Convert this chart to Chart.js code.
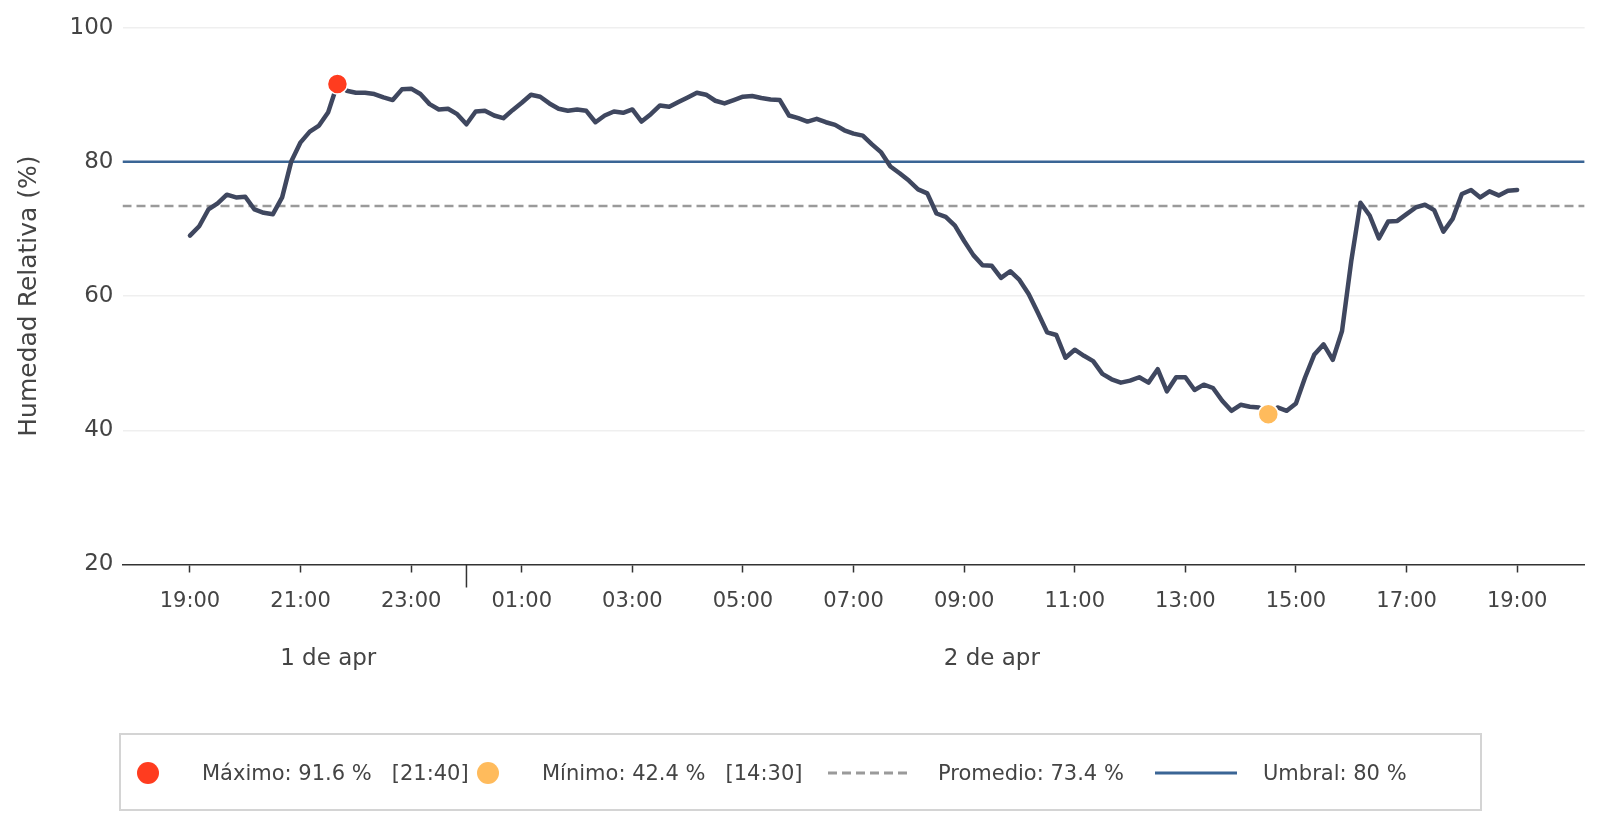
<!DOCTYPE html>
<html>
<head>
<meta charset="utf-8">
<script src="https://cdn.jsdelivr.net/npm/chart.js@4/dist/chart.umd.min.js"></script>
<style>
  body { margin: 0; background: #fff; font-family: 'DejaVu Sans', sans-serif; color: #444; }
  #wrap { position: relative; width: 1601px; height: 828px; }
  #legendBox { position: absolute; left: 119px; top: 733px; width: 1359px; height: 74px; border: 2px solid #d4d4d4; }
  .lg { position: absolute; font-size: 21px; line-height: 24px; top: 761px; white-space: pre; color: #444; }
  .dot { position: absolute; width: 22px; height: 22px; border-radius: 50%; top: 762px; }
  .ln { position: absolute; top: 766px; }
</style>
</head>
<body>
<div id="wrap">
  <canvas id="humChart" width="1601" height="828"></canvas>
  <div id="legendBox"></div>
  <div class="dot" style="left:137px;background:#ff3c1f"></div>
  <div class="lg" id="lgMax" style="left:202px"></div>
  <div class="dot" style="left:477px;background:#ffbb5c"></div>
  <div class="lg" id="lgMin" style="left:542px"></div>
  <svg class="ln" style="left:828px" width="84" height="14"><line x1="0" y1="7" x2="84" y2="7" stroke="#9a9a9a" stroke-width="3" stroke-dasharray="9,5"/></svg>
  <div class="lg" id="lgAvg" style="left:938px"></div>
  <svg class="ln" style="left:1155px" width="82" height="14"><line x1="0" y1="7" x2="82" y2="7" stroke="#3a6595" stroke-width="3"/></svg>
  <div class="lg" id="lgThr" style="left:1263px"></div>
</div>
<script>
// readings every 10 min, from 19:00 on 1 apr to 19:00 on 2 apr
const stepMinutes = 10;
const humidity = [
  69.0, 70.4, 72.9, 73.8, 75.1, 74.7, 74.8, 72.9, 72.4, 72.2, 74.7, 80.1,
  82.9, 84.5, 85.4, 87.4, 91.6, 90.6, 90.3, 90.3, 90.1, 89.6, 89.2, 90.8,
  90.9, 90.1, 88.6, 87.8, 87.9, 87.1, 85.6, 87.5, 87.6, 86.9, 86.5, 87.7,
  88.8, 90.0, 89.7, 88.7, 87.9, 87.6, 87.8, 87.6, 85.9, 86.9, 87.5, 87.3,
  87.8, 86.0, 87.1, 88.4, 88.2, 88.9, 89.6, 90.3, 90.0, 89.1, 88.7, 89.2,
  89.7, 89.8, 89.5, 89.3, 89.2, 86.9, 86.5, 86.0, 86.4, 85.9, 85.5, 84.7,
  84.2, 83.9, 82.6, 81.4, 79.3, 78.3, 77.2, 75.9, 75.3, 72.3, 71.8, 70.5,
  68.2, 66.1, 64.6, 64.5, 62.7, 63.7, 62.4, 60.3, 57.5, 54.6, 54.2, 50.8,
  52.0, 51.1, 50.3, 48.4, 47.6, 47.1, 47.4, 47.9, 47.1, 49.1, 45.8, 47.9,
  47.9, 46.0, 46.8, 46.3, 44.4, 42.9, 43.8, 43.5, 43.4, 42.4, 43.4, 42.9,
  44.0, 47.9, 51.3, 52.8, 50.5, 54.8, 65.2, 73.9, 72.0, 68.6, 71.1, 71.2,
  72.2, 73.2, 73.6, 72.8, 69.6, 71.5, 75.2, 75.8, 74.7, 75.6, 75.0, 75.7,
  75.8
];
const average = 73.4;
const threshold = 80;
const maxLabel = '21:40';
const minLabel = '14:30';

// x axis in hours after 19:00
const tickHours = [0, 2, 4, 6, 8, 10, 12, 14, 16, 18, 20, 22, 24];
const tickLabels = ['19:00', '21:00', '23:00', '01:00', '03:00', '05:00', '07:00',
                    '09:00', '11:00', '13:00', '15:00', '17:00', '19:00'];
const midnightHour = 5;
const dayLabels = ['1 de apr', '2 de apr'];
const xMin = -1.22, xMax = 25.22;

const points = humidity.map((v, i) => ({ x: i * stepMinutes / 60, y: v }));
const maxVal = Math.max(...humidity);
const minVal = Math.min(...humidity);
const maxPoint = points[humidity.indexOf(maxVal)];
const minPoint = points[humidity.indexOf(minVal)];

document.getElementById('lgMax').textContent = 'Máximo: ' + maxVal.toFixed(1) + ' %   [' + maxLabel + ']';
document.getElementById('lgMin').textContent = 'Mínimo: ' + minVal.toFixed(1) + ' %   [' + minLabel + ']';
document.getElementById('lgAvg').textContent = 'Promedio: ' + average.toFixed(1) + ' %';
document.getElementById('lgThr').textContent = 'Umbral: ' + threshold + ' %';

const dayAxis = {
  id: 'dayAxis',
  afterDraw(chart) {
    const { ctx, chartArea: { bottom } } = chart;
    const x = chart.scales.x;
    const mid = x.getPixelForValue(midnightHour);
    ctx.save();
    ctx.strokeStyle = '#333';
    ctx.lineWidth = 1.5;
    ctx.beginPath();
    ctx.moveTo(mid, bottom);
    ctx.lineTo(mid, bottom + 23);
    ctx.stroke();
    ctx.fillStyle = '#444';
    ctx.font = '23px "DejaVu Sans"';
    ctx.textAlign = 'center';
    ctx.textBaseline = 'middle';
    const x0 = x.getPixelForValue(0);
    const x1 = x.getPixelForValue(24);
    ctx.fillText(dayLabels[0], (x0 + mid) / 2, 659);
    ctx.fillText(dayLabels[1], (mid + x1) / 2, 659);
    ctx.restore();
  }
};

new Chart(document.getElementById('humChart'), {
  type: 'line',
  data: {
    datasets: [
      {
        label: 'Máximo',
        data: [maxPoint],
        showLine: false,
        pointRadius: 10,
        pointBackgroundColor: '#ff3c1f',
        pointBorderColor: '#fff',
        pointBorderWidth: 1.5,
        order: 0
      },
      {
        label: 'Mínimo',
        data: [minPoint],
        showLine: false,
        pointRadius: 10,
        pointBackgroundColor: '#ffbb5c',
        pointBorderColor: '#fff',
        pointBorderWidth: 1.5,
        order: 1
      },
      {
        label: 'Humedad',
        data: points,
        borderColor: '#3f475f',
        borderWidth: 4.5,
        pointRadius: 0,
        tension: 0,
        borderJoinStyle: 'round',
        borderCapStyle: 'round',
        order: 2
      },
      {
        label: 'Umbral',
        data: [{ x: xMin, y: threshold }, { x: xMax, y: threshold }],
        borderColor: '#3a6595',
        borderWidth: 2.5,
        pointRadius: 0,
        order: 3
      },
      {
        label: 'Promedio',
        data: [{ x: xMin, y: average }, { x: xMax, y: average }],
        borderColor: '#9a9a9a',
        borderWidth: 2.5,
        borderDash: [9, 5],
        pointRadius: 0,
        order: 4
      }
    ]
  },
  options: {
    responsive: false,
    animation: false,
    devicePixelRatio: 1,
    layout: { autoPadding: false, padding: { top: 27.6, right: 16.4, bottom: 163.5, left: 0 } },
    plugins: { legend: { display: false }, tooltip: { enabled: false } },
    scales: {
      x: {
        type: 'linear',
        min: xMin,
        max: xMax,
        afterBuildTicks(scale) { scale.ticks = tickHours.map(h => ({ value: h })); },
        afterFit(scale) { scale.height = 100; },
        ticks: {
          autoSkip: false,
          maxRotation: 0,
          padding: 16,
          color: '#444',
          font: { family: 'DejaVu Sans', size: 21 },
          callback: (v) => tickLabels[tickHours.indexOf(v)]
        },
        grid: { drawOnChartArea: false, drawTicks: true, tickLength: 8, tickColor: '#333', tickWidth: 1.5 },
        border: { display: true, color: '#333', width: 1.5 }
      },
      y: {
        min: 20,
        max: 100,
        afterFit(scale) { scale.width = 122.5; },
        ticks: {
          stepSize: 20,
          padding: 9,
          color: '#444',
          font: { family: 'DejaVu Sans', size: 23 }
        },
        grid: {
          drawTicks: false,
          color: (c) => c.tick && c.tick.value === 20 ? 'rgba(0,0,0,0)' : '#efefef',
          lineWidth: 1.5
        },
        border: { display: false },
        title: {
          display: true,
          text: 'Humedad Relativa (%)',
          color: '#444',
          font: { family: 'DejaVu Sans', size: 25 },
          padding: { top: 14 }
        }
      }
    }
  },
  plugins: [dayAxis]
});
</script>
</body>
</html>
